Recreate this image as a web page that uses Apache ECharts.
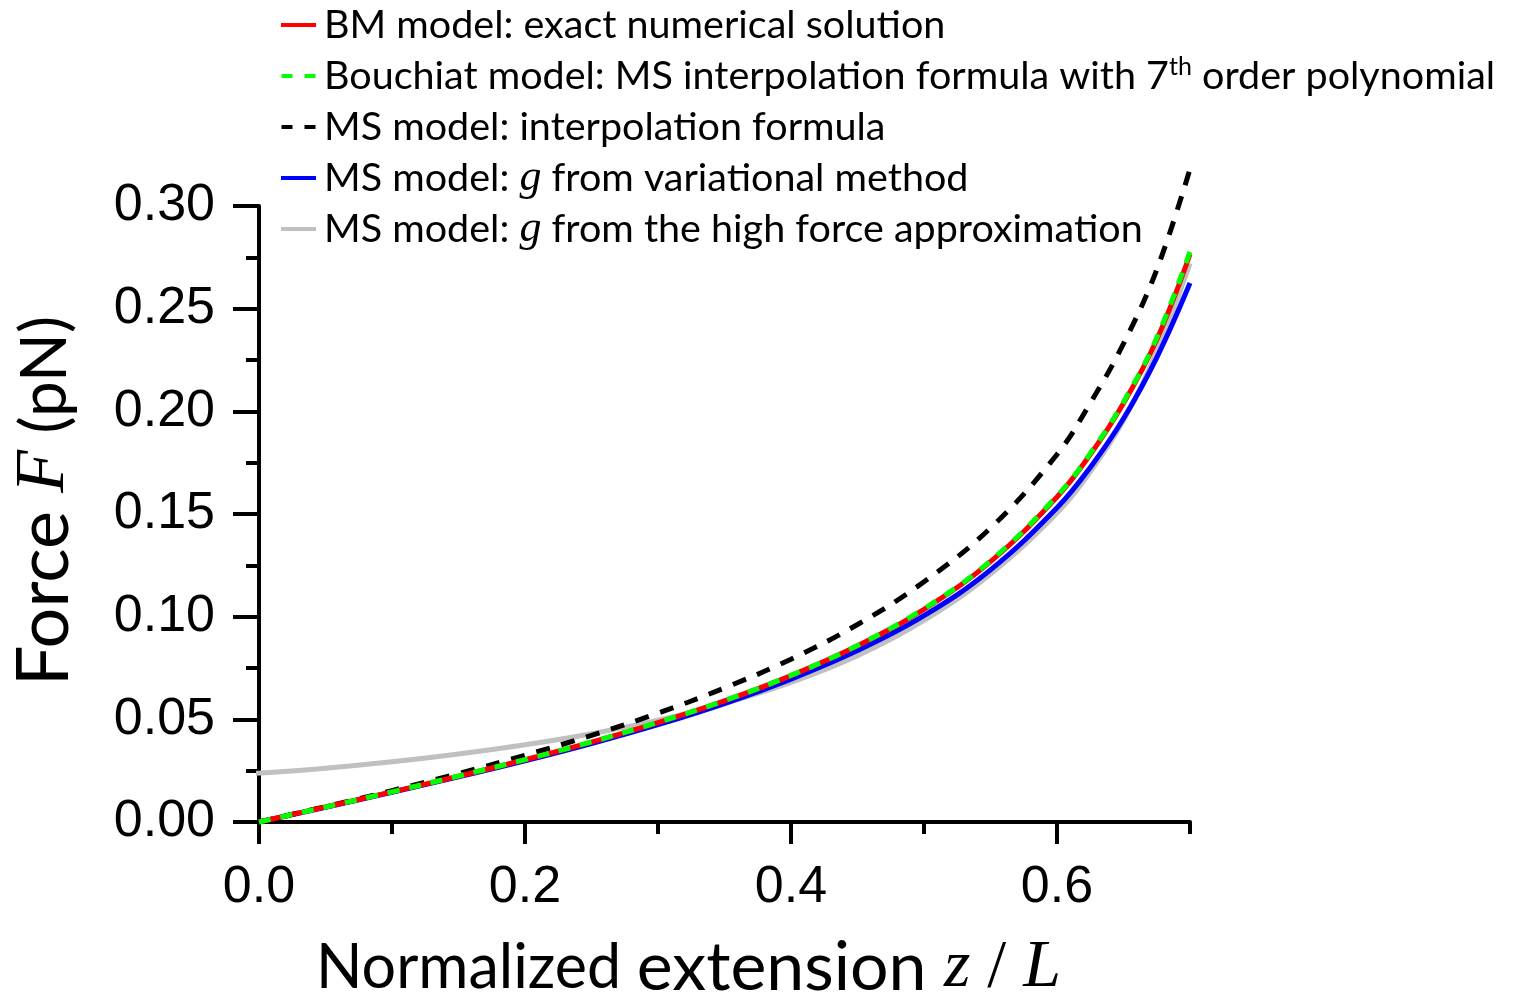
<!DOCTYPE html>
<html>
<head>
<meta charset="utf-8">
<script src="https://cdn.jsdelivr.net/npm/echarts@6/dist/echarts.min.js"></script>
<style>
html,body{margin:0;padding:0;background:#fff;}
#chart{width:1520px;height:1000px;}
</style>
</head>
<body>
<div id="chart"></div>
<script>
// ---- data ----
const xs = [0, 0.05, 0.1, 0.15, 0.2, 0.25, 0.3, 0.35, 0.4, 0.45, 0.5, 0.55, 0.6, 0.625, 0.65, 0.675, 0.7];
const bmExact   = [0, 0.0073, 0.0147, 0.0223, 0.0303, 0.0389, 0.0484, 0.0590, 0.0713, 0.0858, 0.1036, 0.1268, 0.1583, 0.1789, 0.2039, 0.2349, 0.2765];
const bouchiat  = [0, 0.0073, 0.0147, 0.0224, 0.0304, 0.0390, 0.0485, 0.0591, 0.0714, 0.0860, 0.1039, 0.1272, 0.1588, 0.1795, 0.2046, 0.2358, 0.2778];
const msInterp  = [0, 0.0075, 0.0153, 0.0236, 0.0325, 0.0422, 0.0530, 0.0653, 0.0793, 0.0962, 0.1170, 0.1432, 0.1790, 0.2040, 0.2330, 0.2690, 0.3180];
const msVariational = [0, 0.0072, 0.0145, 0.0220, 0.0298, 0.0382, 0.0474, 0.0577, 0.0696, 0.0835, 0.1005, 0.1228, 0.1530, 0.1727, 0.1965, 0.2262, 0.2625];
const xsHigh = [-0.023, 0, 0.05, 0.1, 0.15, 0.2, 0.25, 0.3, 0.35, 0.4, 0.45, 0.5, 0.55, 0.6, 0.625, 0.65, 0.675, 0.7];
const msHighForce = [0.0229, 0.0238, 0.0262, 0.0293, 0.0331, 0.0376, 0.0430, 0.0496, 0.0578, 0.0680, 0.0810, 0.0982, 0.1208, 0.1505, 0.1705, 0.1955, 0.2290, 0.2720];

const xMajorTicks = [0, 0.2, 0.4, 0.6];
const xMinorTicks = [0.1, 0.3, 0.5, 0.7];

const names = {
  bm: 'BM model: exact numerical solution',
  bo: 'Bouchiat model: MS interpolation formula with 7th order polynomial',
  ms: 'MS model: interpolation formula',
  va: 'MS model: g from variational method',
  hf: 'MS model: g from the high force approximation'
};
const legendRich = {
  [names.bm]: 'BM model: exact numerical solution',
  [names.bo]: 'Bouchiat model: MS interpolation formula with 7{sup|th} order polynomial',
  [names.ms]: 'MS model: interpolation formula',
  [names.va]: 'MS model: {g|g} from variational method',
  [names.hf]: 'MS model: {g|g} from the high force approximation'
};
const colors = {bm: '#ff0000', bo: '#00ff00', ms: '#000000', va: '#0000ff', hf: '#c0c0c0'};

function pairs(x, y){ return x.map((v,i)=>[v, y[i]]); }

const solidIcon = 'path://M0,0H35V4H0Z';
const dashIcon = 'path://M0,0H11V4H0Z M23,0H34V4H23Z';

const chart = echarts.init(document.getElementById('chart'));
const sansFont = 'Lato';
const option = {
  animation: false,
  backgroundColor: '#fff',
  grid: {left: 259, right: 330, top: 206, bottom: 178, containLabel: false, outerBoundsMode: 'none'},
  legend: {
    orient: 'vertical', left: 276, top: -2,
    itemWidth: 35, itemHeight: 4, itemGap: 7,
    data: [
      {name: names.bm, icon: solidIcon, itemStyle: {color: colors.bm}},
      {name: names.bo, icon: dashIcon, itemStyle: {color: colors.bo}},
      {name: names.ms, icon: dashIcon, itemStyle: {color: colors.ms}},
      {name: names.va, icon: solidIcon, itemStyle: {color: colors.va}},
      {name: names.hf, icon: solidIcon, itemStyle: {color: colors.hf}}
    ],
    formatter: n => legendRich[n],
    textStyle: {
      fontFamily: sansFont, fontSize: 39.5, color: '#000', lineHeight: 44, padding: [0, 0, 0, 3],
      rich: {
        g: {fontFamily: 'Liberation Serif', fontStyle: 'italic', fontSize: 44, color: '#000', lineHeight: 44},
        sup: {fontFamily: sansFont, fontSize: 25, color: '#000', verticalAlign: 'top', lineHeight: 25}
      }
    }
  },
  xAxis: [{
    type: 'value', min: 0, max: 0.7, interval: 0.1,
    axisLine: {lineStyle: {color: '#000', width: 4}},
    axisTick: {show: true, customValues: xMajorTicks, length: 22, lineStyle: {width: 4, color: '#000'}},
    axisLabel: {customValues: xMajorTicks, fontFamily: 'Liberation Sans', fontSize: 52, color: '#000', margin: 40,
      formatter: v => v.toFixed(1)},
    splitLine: {show: false},
    name: '{a|Normalized }{b|extension }{c|z}{d| / }{c|L}',
    nameLocation: 'middle', nameGap: 112,
    nameTextStyle: {
      padding: [0, 72, 0, 0],
      rich: {
        a: {fontFamily: sansFont, fontSize: 61, color: '#000'},
        b: {fontFamily: sansFont, fontSize: 68, color: '#000'},
        c: {fontFamily: 'Liberation Serif', fontStyle: 'italic', fontSize: 68, color: '#000'},
        d: {fontFamily: 'Liberation Serif', fontSize: 68, color: '#000'}
      }
    }
  }, {
    type: 'value', min: 0, max: 0.7, interval: 0.1, position: 'bottom',
    axisLine: {show: false},
    axisTick: {show: true, customValues: xMinorTicks, length: 12, lineStyle: {width: 4, color: '#000'}},
    axisLabel: {show: false},
    splitLine: {show: false}
  }],
  yAxis: {
    type: 'value', min: 0, max: 0.3, interval: 0.05,
    axisLine: {show: true, lineStyle: {color: '#000', width: 4}},
    axisTick: {show: true, length: 26, lineStyle: {width: 4, color: '#000'}},
    minorTick: {show: true, splitNumber: 2, length: 13, lineStyle: {width: 4, color: '#000'}},
    axisLabel: {fontFamily: 'Liberation Sans', fontSize: 52, color: '#000', margin: 44,
      formatter: v => v.toFixed(2)},
    splitLine: {show: false},
    name: '{a|Force }{c|F}{b| (pN)}',
    nameLocation: 'middle', nameGap: 178,
    nameTextStyle: {
      padding: [0, 0, 0, 26],
      rich: {
        a: {fontFamily: sansFont, fontSize: 72, color: '#000'},
        b: {fontFamily: sansFont, fontSize: 64, color: '#000'},
        c: {fontFamily: 'Liberation Serif', fontStyle: 'italic', fontSize: 70, color: '#000'}
      }
    }
  },
  series: [
    {name: names.hf, type: 'line', data: pairs(xsHigh, msHighForce), smooth: 0.4, symbol: 'none', clip: false,
      lineStyle: {color: colors.hf, width: 5}, itemStyle: {color: colors.hf}, z: 1},
    {name: names.va, type: 'line', data: pairs(xs, msVariational), smooth: 0.4, symbol: 'none', clip: false,
      lineStyle: {color: colors.va, width: 5}, itemStyle: {color: colors.va}, z: 2},
    {name: names.ms, type: 'line', data: pairs(xs, msInterp), smooth: 0.4, symbol: 'none', clip: false,
      lineStyle: {color: colors.ms, width: 5, type: [14, 12]}, itemStyle: {color: colors.ms}, z: 3},
    {name: names.bm, type: 'line', data: pairs(xs, bmExact), smooth: 0.4, symbol: 'none', clip: false,
      lineStyle: {color: colors.bm, width: 5}, itemStyle: {color: colors.bm}, z: 4},
    {name: names.bo, type: 'line', data: pairs(xs, bouchiat), smooth: 0.4, symbol: 'none', clip: false,
      lineStyle: {color: colors.bo, width: 5, type: [12, 10]}, itemStyle: {color: colors.bo}, z: 5}
  ]
};
chart.setOption(option);
</script>
</body>
</html>
